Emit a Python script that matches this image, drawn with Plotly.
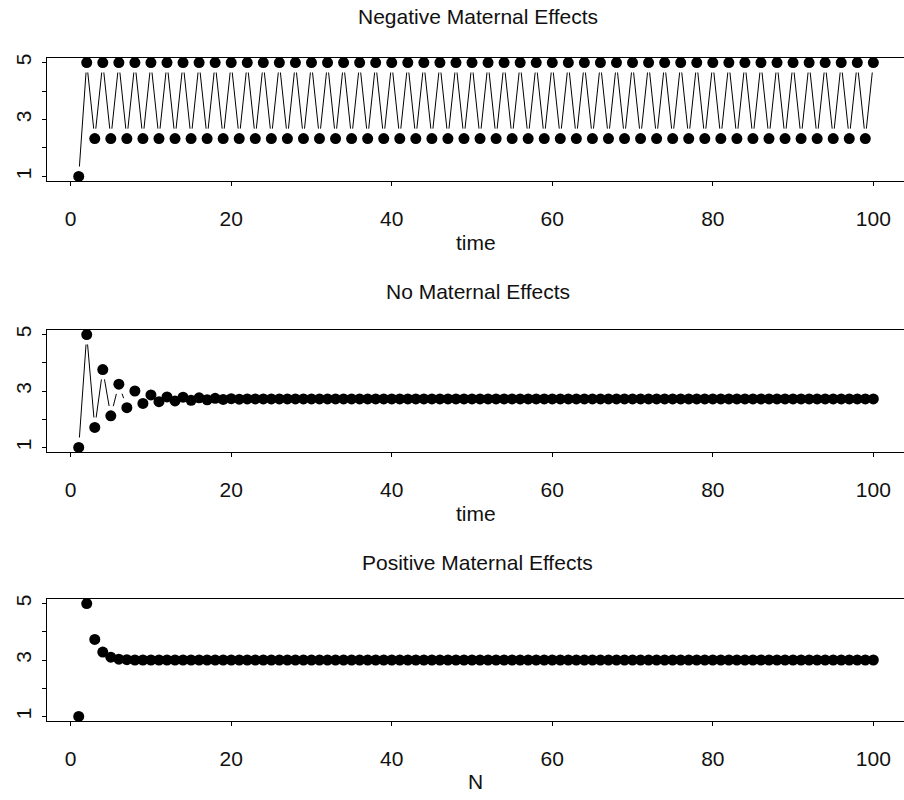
import math
import plotly.graph_objects as go

time = list(range(1, 101))

negative = [1, 5] + [2.33, 5] * 49
no_effects = [1, 5, 1.71, 3.76, 2.12, 3.24, 2.41, 3.0, 2.56, 2.86,
              2.62, 2.79, 2.65, 2.78, 2.67, 2.76, 2.69, 2.74, 2.70, 2.73,
              2.71, 2.72] + [2.72] * 78
positive = [1, 5, 3.73, 3.28, 3.10, 3.03, 3.01] + [3.0] * 93

titles = ["Negative Maternal Effects", "No Maternal Effects", "Positive Maternal Effects"]
xlabels = ["time", "time", "N"]
xticks = [0, 20, 40, 60, 80, 100]
yticks = [1, 2, 3, 4, 5]
yticktext = ["1", "", "3", "", "5"]

W, H = 904, 800
ML = 47
PW = W - ML
XR = [-2.95, 103.82]
YR = [0.84, 5.16]
# panel pixel (top, bottom) in window coordinates
panels_px = [(58, 181), (330, 452), (599, 721)]
title_px = [16, 291, 562]
xlab_px = [242, 513, 781]

FONT = "Liberation Sans, Arial, sans-serif"


def gapped(x, y, hpx, gap=10.0):
    sx = PW / (XR[1] - XR[0])
    sy = hpx / (YR[1] - YR[0])
    xs, ys = [], []
    for i in range(len(x) - 1):
        ddx = x[i + 1] - x[i]
        ddy = y[i + 1] - y[i]
        L = math.hypot(ddx * sx, ddy * sy)
        if L <= 2 * gap:
            continue
        f = gap / L
        xs += [x[i] + f * ddx, x[i + 1] - f * ddx, None]
        ys += [y[i] + f * ddy, y[i + 1] - f * ddy, None]
    return xs, ys


fig = go.Figure()
series = [negative, no_effects, positive]
with_lines = [True, True, False]

annotations = []
for k in range(3):
    top, bot = panels_px[k]
    xa = "x" if k == 0 else f"x{k+1}"
    ya = "y" if k == 0 else f"y{k+1}"
    if with_lines[k]:
        lx, ly = gapped(time, series[k], bot - top)
        fig.add_trace(go.Scatter(x=lx, y=ly, mode="lines",
                                 line=dict(color="black", width=1),
                                 xaxis=xa, yaxis=ya, showlegend=False,
                                 hoverinfo="skip"))
    fig.add_trace(go.Scatter(x=time, y=series[k], mode="markers",
                             marker=dict(color="black", size=11, symbol="circle"),
                             xaxis=xa, yaxis=ya, showlegend=False))
    dom = [(H - bot) / H, (H - top) / H]
    axx = dict(domain=[0, 1], range=XR, showline=True, mirror=True,
               linecolor="black", linewidth=1, ticks="outside", ticklen=4,
               tickcolor="black", tickvals=xticks, showgrid=False, zeroline=False,
               tickfont=dict(family=FONT, size=21, color="#111"),
               ticklabelstandoff=15, anchor=ya, automargin=False)
    axy = dict(domain=dom, range=YR, showline=True, mirror=False,
               linecolor="black", linewidth=1, ticks="outside", ticklen=4,
               tickcolor="black", tickvals=yticks, ticktext=yticktext,
               tickangle=-90, showgrid=False, zeroline=False,
               tickfont=dict(family=FONT, size=21, color="#111"),
               ticklabelstandoff=3, anchor=xa, automargin=False)
    kx = "xaxis" if k == 0 else f"xaxis{k+1}"
    ky = "yaxis" if k == 0 else f"yaxis{k+1}"
    fig.update_layout({kx: axx, ky: axy})
    annotations.append(dict(text=titles[k], x=(PW / 2 + 2) / PW, xref="paper",
                            y=1 - title_px[k] / H, yref="paper",
                            showarrow=False, xanchor="center", yanchor="middle",
                            font=dict(family=FONT, size=21, color="#111")))
    annotations.append(dict(text=xlabels[k], x=0.5, xref="paper",
                            y=1 - xlab_px[k] / H, yref="paper",
                            showarrow=False, xanchor="center", yanchor="middle",
                            font=dict(family=FONT, size=21, color="#111")))

fig.update_layout(width=W, height=H,
                  margin=dict(l=ML, r=0, t=0, b=0, autoexpand=False),
                  plot_bgcolor="white", paper_bgcolor="white",
                  template="none",
                  annotations=annotations)
fig.write_html("out.html", config={"displayModeBar": False},
               post_script="document.body.style.margin='0';document.body.style.overflow='hidden';")
